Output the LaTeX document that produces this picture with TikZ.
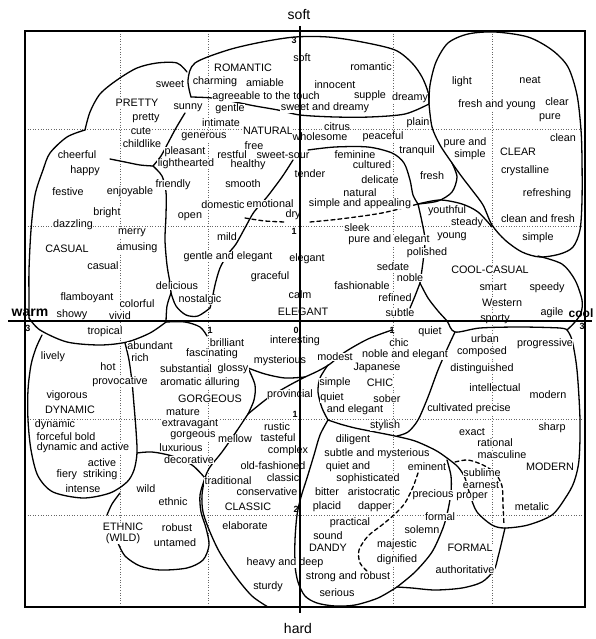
\documentclass[tikz,border=0pt]{standalone}
\usepackage{fontspec}
\setmainfont{Liberation Sans}
\newcommand\wsz{\fontsize{10.8}{12}\selectfont}
\tikzset{
 w/.style={font=\wsz, inner sep=0.4pt, fill=white},
 tk/.style={font=\fontsize{9}{10}\selectfont\bfseries, inner sep=0.3pt},
 ttl/.style={font=\fontsize{14}{16}\selectfont, inner sep=0.5pt},
 bd/.style={line width=1.3pt, line cap=round, line join=round},
 dsh/.style={bd, dash pattern=on 4pt off 3pt},
 gridl/.style={line width=0.6pt, dotted, black!60},
}
\begin{document}
\begin{tikzpicture}[x=1pt,y=-1pt]
\useasboundingbox (0,0) rectangle (595,639);
\fill[white] (0,0) rectangle (595,639);
% grid
\foreach \gx in {120,208,393,492} \draw[gridl] (\gx,31) -- (\gx,607);
\foreach \gy in {129,226,419,515} \draw[gridl] (25,\gy) -- (585,\gy);
% ---------- boundaries ----------
% ROMANTIC
\draw[bd] plot[smooth] coordinates {(191,97) (188,80) (195,63) (228,50) (262,42) (295,37) (328,37) (362,42) (395,50) (412,63) (422,77) (428,92) (429,104)};
\draw[bd] plot[smooth] coordinates {(429,104) (405,114) (370,117) (335,117) (300,115) (278,110) (255,106) (235,102) (212,98) (191,97)};
% PRETTY
\draw[bd] plot[smooth] coordinates {(85,130) (90,112) (100,94) (117,80) (137,68) (157,63) (177,63) (187,72)};
\draw[bd] plot[smooth] coordinates {(185,113) (176,128) (168,143) (161,156) (153,166)};
\draw[bd] plot[smooth] coordinates {(110,159) (125,162) (140,165) (153,166)};
% CASUAL
\draw[bd] plot[smooth] coordinates {(153,166) (162,176) (166,192) (166,215) (165,240) (167,265) (170,283) (171,293)};
\draw[bd] plot[smooth] coordinates {(171,293) (167,306) (166,322)};
\draw[bd] plot[smooth] coordinates {(171,293) (176,306) (186,315) (198,316) (210,308)};
\draw[bd] plot[smooth] coordinates {(85,130) (67,137) (50,153) (43,170) (35,195) (31,230) (29,270) (29,300) (29,318)};
\draw[bd] plot[smooth] coordinates {(29,318) (40,330) (67,342) (100,345) (127,342) (150,333) (166,322)};
\draw[bd] plot[smooth] coordinates {(166,322) (185,322) (200,327) (207,336)};
% DYNAMIC
\draw[bd] plot[smooth] coordinates {(125,343) (129,360) (132,382) (134,405) (136,430) (137,453) (134,470) (127,482) (110,493) (83,498) (53,492) (38,476) (31,450) (28,420) (28,390) (31,365) (36,348) (42,335)};
% ETHNIC
\draw[bd] plot[smooth] coordinates {(120,493) (112,504) (107,515)};
\draw[bd] plot[smooth] coordinates {(118,543) (125,556) (140,566) (160,570) (187,568) (203,560) (209,545) (206,528) (201,512) (200,495) (205,478)};
% GORGEOUS
\draw[bd] plot[smooth] coordinates {(137,453) (152,452) (172,456) (192,465) (205,478)};
\draw[bd] plot[smooth] coordinates {(248,368) (255,385) (254,400) (248,414)};
\draw[bd] plot[smooth] coordinates {(305,377) (288,386) (268,398) (248,414)};
% CLASSIC
\draw[bd] plot[smooth] coordinates {(248,414) (236,432) (222,452) (210,467) (205,478) (202,495) (203,512) (210,532) (220,553) (236,577) (252,596) (268,607)};
\draw[bd] plot[smooth] coordinates {(248,368) (265,374) (285,378) (305,377)};
\draw[bd] plot[smooth] coordinates {(305,377) (318,371) (330,364) (345,352) (368,339) (392,330)};
% CHIC
\draw[bd] plot[smooth] coordinates {(328,365) (320,378) (318,392) (322,408) (328,420)};
\draw[bd] plot[smooth] coordinates {(328,420) (340,424) (355,428) (375,432) (395,436) (415,441) (435,450) (447,458) (458,467) (465,478) (470,495) (477,512) (492,525) (505,528) (528,525) (552,515) (566,497) (574,482) (579,460) (580,420) (577,370) (572,340) (567,330)};
% MODERN
\draw[bd] plot[smooth] coordinates {(455,332) (448,347) (438,370) (428,397) (418,420) (408,432) (397,436)};
\draw[bd] plot[smooth] coordinates {(420,283) (428,298) (438,311) (447,321) (455,332) (480,328) (520,327) (560,328) (567,330)};
% COOL-CASUAL
\draw[bd] plot[smooth] coordinates {(538,256) (562,264) (575,280) (582,300) (581,313) (575,322) (567,330)};
\draw[bd] plot[smooth] coordinates {(420,283) (415,296) (410,308)};
\draw[bd] plot[smooth] coordinates {(418,204) (422,222) (425,240) (423,262) (420,283)};
\draw[bd] plot[smooth] coordinates {(418,204) (440,200) (462,204) (478,212) (492,227)};
% CLEAR
\draw[bd] plot[smooth] coordinates {(452,163) (457,177) (452,192) (438,201) (418,204)};
\draw[bd] plot[smooth] coordinates {(429,104) (432,127) (440,145) (452,163) (462,177) (472,190) (483,205) (492,225) (505,240) (522,252) (540,257) (560,254) (573,247) (580,230) (582,200) (582,160) (581,130) (577,95) (568,67) (552,50) (528,37) (495,32) (468,34) (448,43) (436,62) (430,85) (429,104)};
% NATURAL / ELEGANT
\draw[bd] plot[smooth] coordinates {(308,150) (335,147) (368,147) (392,153) (404,163) (410,180) (413,195) (418,204)};
\draw[dsh] plot[smooth] coordinates {(310,222) (340,219) (382,213) (418,204)};
\draw[dsh] plot[smooth] coordinates {(245,218) (265,221) (285,222)};
\draw[bd] plot[smooth] coordinates {(293,160) (282,177) (267,197) (254,212) (246,226) (236,244) (228,254) (220,268) (215,285) (212,300) (210,308)};
% FORMAL / DANDY
\draw[bd] plot[smooth] coordinates {(447,460) (451,476) (451,492) (448,510) (443,528) (432,552) (415,572) (397,587)};
\draw[bd] plot[smooth] coordinates {(505,528) (501,545) (498,557) (494,570) (482,582) (462,588) (435,590) (412,588) (397,587)};
\draw[bd] plot[smooth] coordinates {(328,420) (320,435) (314,455) (307,478) (301,497) (297,515) (295,540) (295,565) (298,582) (305,596) (317,603) (335,606) (355,605) (378,598) (397,587)};
\draw[dsh] plot[smooth] coordinates {(455,462) (468,460) (483,465) (495,473) (502,486) (503,505) (504,525)};
\draw[dsh] plot[smooth] coordinates {(418,473) (413,487) (405,503) (395,514) (382,525) (368,536) (359,550) (360,563) (368,572)};
% ---------- words: upper half ----------
\node[w] (w001) at (302,58) {soft};
\node[w] (w002) at (243,68) {ROMANTIC};
\node[w] (w003) at (371,67) {romantic};
\node[w] (w004) at (170,84) {sweet};
\node[w] (w005) at (215,82) {charming};
\node[w] (w006) at (265,83) {amiable};
\node[w] (w007) at (335,85) {innocent};
\node[w] (w008) at (462,82) {light};
\node[w] (w009) at (530,80) {neat};
\node[w] (w010) at (266,97) {agreeable to the touch};
\node[w] (w011) at (370,96) {supple};
\node[w] (w012) at (410,98) {dreamy};
\node[w] (w013) at (137,103) {PRETTY};
\node[w] (w014) at (188,108) {sunny};
\node[w] (w015) at (230,109) {gentle};
\node[w] (w016) at (325,108) {sweet and dreamy};
\node[w] (w017) at (497,105) {fresh and young};
\node[w] (w018) at (557,102) {clear};
\node[w] (w019) at (146,118) {pretty};
\node[w] (w020) at (221,123) {intimate};
\node[w] (w021) at (418,123) {plain};
\node[w] (w022) at (550,118) {pure};
\node[w] (w023) at (141,131) {cute};
\node[w] (w024) at (268,131) {NATURAL};
\node[w] (w025) at (337,127) {citrus};
\node[w] (w026) at (204,137) {generous};
\node[w] (w027) at (320,137) {wholesome};
\node[w] (w028) at (383,137) {peaceful};
\node[w] (w029) at (563,138) {clean};
\node[w] (w030) at (142,144) {childlike};
\node[w] (w031) at (254,146) {free};
\node[w] (w032) at (465,143) {pure and};
\node[w] (w033) at (470,155) {simple};
\node[w] (w034) at (518,152) {CLEAR};
\node[w] (w035) at (417,151) {tranquil};
\node[w] (w036) at (77,155) {cheerful};
\node[w] (w037) at (185,152) {pleasant};
\node[w] (w038) at (232,155) {restful};
\node[w] (w039) at (283,155) {sweet-sour};
\node[w] (w040) at (355,155) {feminine};
\node[w] (w041) at (186,164) {lighthearted};
\node[w] (w042) at (248,165) {healthy};
\node[w] (w043) at (372,165) {cultured};
\node[w] (w044) at (85,171) {happy};
\node[w] (w045) at (310,174) {tender};
\node[w] (w046) at (432,176) {fresh};
\node[w] (w047) at (525,171) {crystalline};
\node[w] (w048) at (380,180) {delicate};
\node[w] (w049) at (173,185) {friendly};
\node[w] (w050) at (243,184) {smooth};
\node[w] (w051) at (68,192) {festive};
\node[w] (w052) at (130,192) {enjoyable};
\node[w] (w053) at (360,193) {natural};
\node[w] (w054) at (547,194) {refreshing};
\node[w] (w055) at (223,205) {domestic};
\node[w] (w056) at (270,204) {emotional};
\node[w] (w057) at (360,204) {simple and appealing};
\node[w] (w058) at (447,211) {youthful};
\node[w] (w059) at (107,213) {bright};
\node[w] (w060) at (190,217) {open};
\node[w] (w061) at (293,215) {dry};
\node[w] (w062) at (467,223) {steady};
\node[w] (w063) at (538,219) {clean and fresh};
\node[w] (w064) at (73,225) {dazzling};
\node[w] (w065) at (357,228) {sleek};
\node[w] (w066) at (132,233) {merry};
\node[w] (w067) at (227,237) {mild};
\node[w] (w068) at (452,237) {young};
\node[w] (w069) at (538,238) {simple};
\node[w] (w070) at (389,240) {pure and elegant};
\node[w] (w071) at (67,249) {CASUAL};
\node[w] (w072) at (137,248) {amusing};
\node[w] (w073) at (427,253) {polished};
\node[w] (w074) at (228,257) {gentle and elegant};
\node[w] (w075) at (307,259) {elegant};
\node[w] (w076) at (103,266) {casual};
\node[w] (w077) at (393,267) {sedate};
\node[w] (w078) at (490,270) {COOL-CASUAL};
\node[w] (w079) at (270,277) {graceful};
\node[w] (w080) at (410,278) {noble};
\node[w] (w081) at (177,286) {delicious};
\node[w] (w082) at (362,286) {fashionable};
\node[w] (w083) at (493,287) {smart};
\node[w] (w084) at (547,288) {speedy};
\node[w] (w085) at (300,295) {calm};
\node[w] (w086) at (87,298) {flamboyant};
\node[w] (w087) at (200,300) {nostalgic};
\node[w] (w088) at (395,298) {refined};
\node[w] (w089) at (137,304) {colorful};
\node[w] (w090) at (502,303) {Western};
\node[w] (w091) at (303,312) {ELEGANT};
\node[w] (w092) at (400,313) {subtle};
\node[w] (w093) at (552,313) {agile};
\node[w] (w094) at (72,315) {showy};
\node[w] (w095) at (120,316) {vivid};
\node[w] (w096) at (495,319) {sporty};
% ---------- words: lower half ----------
\node[w] (w101) at (105,332) {tropical};
\node[w] (w102) at (430,332) {quiet};
\node[w] (w103) at (485,339) {urban};
\node[w] (w104) at (227,343) {brilliant};
\node[w] (w105) at (295,341) {interesting};
\node[w] (w106) at (399,343) {chic};
\node[w] (w107) at (545,344) {progressive};
\node[w] (w108) at (150,346) {abundant};
\node[w] (w109) at (482,352) {composed};
\node[w] (w110) at (212,354) {fascinating};
\node[w] (w111) at (405,355) {noble and elegant};
\node[w] (w112) at (53,357) {lively};
\node[w] (w113) at (140,358) {rich};
\node[w] (w114) at (335,357) {modest};
\node[w] (w115) at (280,361) {mysterious};
\node[w] (w116) at (108,367) {hot};
\node[w] (w117) at (186,369) {substantial};
\node[w] (w118) at (233,369) {glossy};
\node[w] (w119) at (377,368) {Japanese};
\node[w] (w120) at (482,369) {distinguished};
\node[w] (w121) at (120,382) {provocative};
\node[w] (w122) at (200,383) {aromatic alluring};
\node[w] (w123) at (335,383) {simple};
\node[w] (w124) at (380,383) {CHIC};
\node[w] (w125) at (495,388) {intellectual};
\node[w] (w126) at (67,396) {vigorous};
\node[w] (w127) at (210,399) {GORGEOUS};
\node[w] (w128) at (290,395) {provincial};
\node[w] (w129) at (332,398) {quiet};
\node[w] (w130) at (387,399) {sober};
\node[w] (w131) at (548,395) {modern};
\node[w] (w132) at (70,410) {DYNAMIC};
\node[w] (w133) at (183,412) {mature};
\node[w] (w134) at (355,410) {and elegant};
\node[w] (w135) at (469,409) {cultivated precise};
\node[w] (w136) at (55,425) {dynamic};
\node[w] (w137) at (190,424) {extravagant};
\node[w] (w138) at (277,427) {rustic};
\node[w] (w139) at (385,426) {stylish};
\node[w] (w140) at (552,428) {sharp};
\node[w] (w141) at (472,432) {exact};
\node[w] (w142) at (66,437) {forceful bold};
\node[w] (w143) at (193,436) {gorgeous};
\node[w] (w144) at (235,439) {mellow};
\node[w] (w145) at (278,438) {tasteful};
\node[w] (w146) at (353,440) {diligent};
\node[w] (w147) at (495,443) {rational};
\node[w] (w148) at (83,448) {dynamic and active};
\node[w] (w149) at (181,448) {luxurious};
\node[w] (w150) at (288,451) {complex};
\node[w] (w151) at (377,454) {subtle and mysterious};
\node[w] (w152) at (502,455) {masculine};
\node[w] (w153) at (102,463) {active};
\node[w] (w154) at (189,460) {decorative};
\node[w] (w155) at (273,466) {old-fashioned};
\node[w] (w156) at (348,467) {quiet and};
\node[w] (w157) at (427,467) {eminent};
\node[w] (w158) at (550,467) {MODERN};
\node[w] (w159) at (482,473) {sublime};
\node[w] (w160) at (87,475) {fiery\ \ striking};
\node[w] (w161) at (228,481) {traditional};
\node[w] (w162) at (283,478) {classic};
\node[w] (w163) at (368,479) {sophisticated};
\node[w] (w164) at (481,485) {earnest};
\node[w] (w165) at (83,489) {intense};
\node[w] (w166) at (146,489) {wild};
\node[w] (w167) at (267,492) {conservative};
\node[w] (w168) at (327,492) {bitter};
\node[w] (w169) at (374,492) {aristocratic};
\node[w] (w170) at (433,495) {precious};
\node[w] (w171) at (472,497) {proper};
\node[w] (w172) at (173,502) {ethnic};
\node[w] (w173) at (248,507) {CLASSIC};
\node[w] (w174) at (327,507) {placid};
\node[w] (w175) at (375,507) {dapper};
\node[w] (w176) at (532,507) {metalic};
\node[w] (w177) at (440,517) {formal};
\node[w] (w178) at (350,523) {practical};
\node[w] (w179) at (245,526) {elaborate};
\node[w] (w180) at (123,527) {ETHNIC};
\node[w] (w181) at (177,528) {robust};
\node[w] (w182) at (422,530) {solemn};
\node[w] (w183) at (328,536) {sound};
\node[w] (w184) at (123,539) {(WILD)};
\node[w] (w185) at (175,543) {untamed};
\node[w] (w186) at (397,545) {majestic};
\node[w] (w187) at (328,548) {DANDY};
\node[w] (w188) at (470,548) {FORMAL};
\node[w] (w189) at (397,560) {dignified};
\node[w] (w190) at (285,563) {heavy and deep};
\node[w] (w191) at (465,570) {authoritative};
\node[w] (w192) at (348,577) {strong and robust};
\node[w] (w193) at (268,587) {sturdy};
\node[w] (w194) at (337,593) {serious};
% ---------- axes and frame ----------
\draw[line width=1.8pt] (25,31) rectangle (585,607);
\draw[line width=2.4pt] (300,26) -- (300,613);
\draw[line width=2.4pt] (8,321) -- (592,321);
\node[ttl] (tsoft) at (299,15) {soft};
\node[ttl] (thard) at (298,628) {hard};
\node[ttl, font=\fontsize{14}{16}\selectfont\bfseries] (twarm) at (30,313) {warm};
\node[ttl, font=\fontsize{12}{14}\selectfont\bfseries] (tcool) at (581,313) {cool};
\node[tk] (k1) at (294,40) {3};
\node[tk] (k2) at (294,231) {1};
\node[tk] (k3) at (296,330) {0};
\node[tk] (k4) at (210,330) {1};
\node[tk] (k5) at (392,330) {1};
\node[tk] (k6) at (28,328) {3};
\node[tk] (k7) at (582,326) {3};
\node[tk] (k8) at (295,414) {1};
\node[tk] (k9) at (296,509) {2};
\end{tikzpicture}
\end{document}
